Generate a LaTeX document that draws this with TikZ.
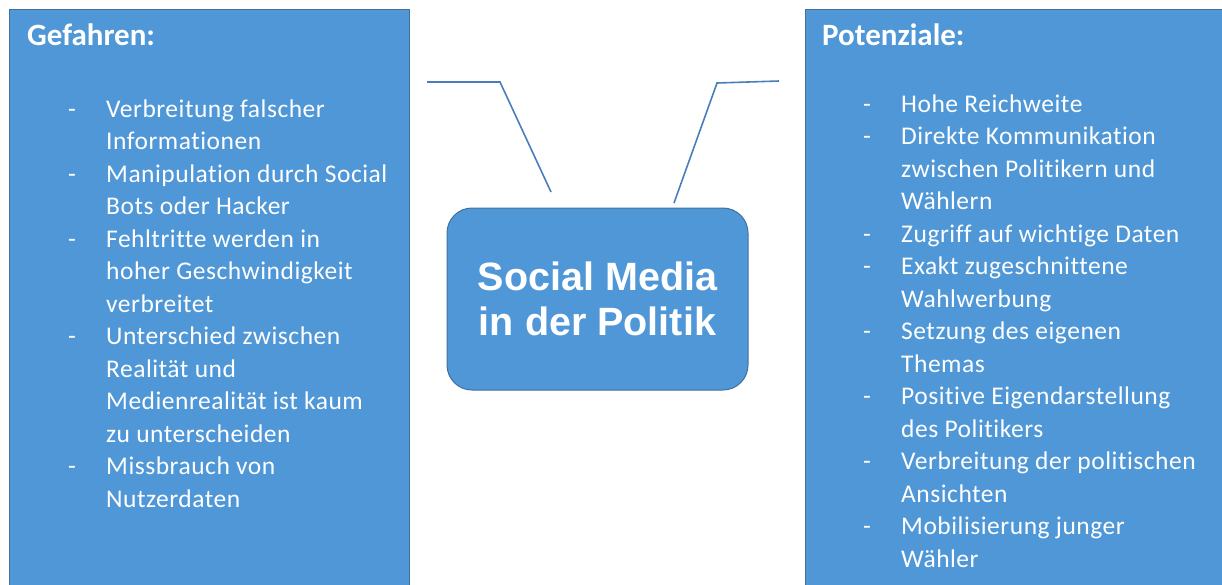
\documentclass[tikz,border=0pt]{standalone}
\usepackage{fontspec}
\setmainfont{Carlito}[Ligatures=NoCommon]
\newfontfamily\listfont{Carlito}[LetterSpace=2.0,Ligatures=NoCommon]
\newfontfamily\arialfont{Liberation Sans}
\usetikzlibrary{positioning}

\definecolor{boxblue}{RGB}{79,151,215}
\definecolor{boxedge}{RGB}{65,113,156}
\definecolor{lineblue}{RGB}{74,126,187}

% one dash item and its continuation lines
\newcommand{\dashitem}[1]{\makebox[38pt][l]{-}#1}
\newcommand{\contline}[1]{\hspace*{38pt}#1}

\begin{document}
\begin{tikzpicture}[x=1pt,y=-1pt]
    \tikzstyle{panel} = [draw=boxedge,fill=boxblue,line width=1pt]
    \tikzstyle{topic} = [panel,rounded corners=25pt,minimum width=301pt,minimum height=182pt,
                         text=white,align=center,font=\arialfont\bfseries\fontsize{39.5}{45}\selectfont]
    \tikzstyle{heading} = [text=white,inner sep=0pt,anchor=base west,font=\bfseries\fontsize{31}{36}\selectfont]
    % list top = first baseline minus strut height (0.7 x 32.5)
    \tikzstyle{points} = [text=white,inner sep=0pt,anchor=north west,align=left,font=\listfont\fontsize{25.5}{32.5}\selectfont]
    \tikzstyle{callout} = [draw=lineblue,line width=1.6pt]
    %
    \useasboundingbox (0,0) rectangle (1222,584);
    \begin{scope}
      \clip (0,0) rectangle (1222,584);
      % the two side panels run off the bottom edge
      \draw[panel] (9,9) rectangle (409,620);
      \draw[panel] (805,9) rectangle (1240,620);
    \end{scope}
    %
    \node[topic] (topic) at (597.5,299) {Social Media\\in der Politik};
    %
    \node[heading] (gefahren) at (27,45) {Gefahren:};
    \node[points] (gefahrenlist) at (68,94.25) {%
      \strut\dashitem{Verbreitung falscher}\\
      \contline{Informationen}\\
      \dashitem{Manipulation durch Social}\\
      \contline{Bots oder Hacker}\\
      \dashitem{Fehltritte werden in}\\
      \contline{hoher Geschwindigkeit}\\
      \contline{verbreitet}\\
      \dashitem{Unterschied zwischen}\\
      \contline{Realität und}\\
      \contline{Medienrealität ist kaum}\\
      \contline{zu unterscheiden}\\
      \dashitem{Missbrauch von}\\
      \contline{Nutzerdaten}};
    %
    \node[heading] (potenziale) at (822,45) {Potenziale:};
    \node[points] (potenzialelist) at (863,89.25) {%
      \strut\dashitem{Hohe Reichweite}\\
      \dashitem{Direkte Kommunikation}\\
      \contline{zwischen Politikern und}\\
      \contline{Wählern}\\
      \dashitem{Zugriff auf wichtige Daten}\\
      \dashitem{Exakt zugeschnittene}\\
      \contline{Wahlwerbung}\\
      \dashitem{Setzung des eigenen}\\
      \contline{Themas}\\
      \dashitem{Positive Eigendarstellung}\\
      \contline{des Politikers}\\
      \dashitem{Verbreitung der politischen}\\
      \contline{Ansichten}\\
      \dashitem{Mobilisierung junger}\\
      \contline{Wähler}};
    %
    % callout lines from the topic towards both panels
    \coordinate (lstart) at (427,82);
    \coordinate (lbend) at (500,82);
    \coordinate (lend) at (551,192);
    \coordinate (rstart) at (779,81);
    \coordinate (rbend) at (717,83);
    \coordinate (rend) at (674,203);
    \draw[callout] (lstart) -- (lbend) -- (lend);
    \draw[callout] (rstart) -- (rbend) -- (rend);
\end{tikzpicture}
\end{document}
